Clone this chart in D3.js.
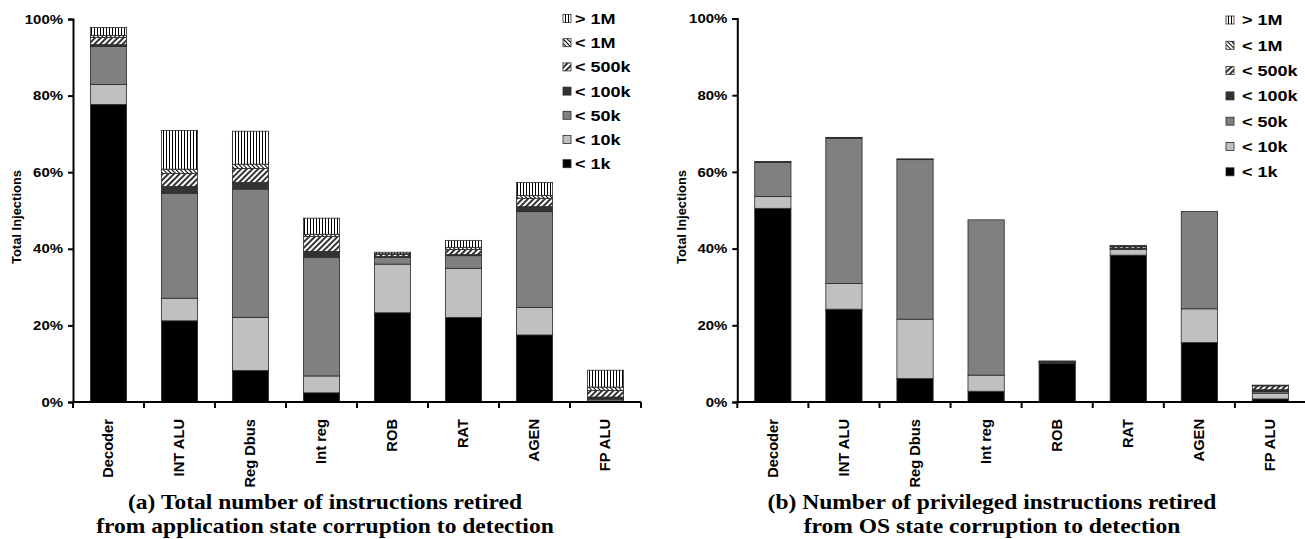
<!DOCTYPE html>
<html>
<head>
<meta charset="utf-8">
<script src="https://cdn.jsdelivr.net/npm/d3@7"></script>
<style>
  html, body { margin: 0; padding: 0; background: #fff; }
  svg { display: block; }
</style>
</head>
<body>
<svg id="chart" width="1305" height="539"></svg>
<script>
// ---------- DATA ----------
const categories = ["Decoder", "INT ALU", "Reg Dbus", "Int reg", "ROB", "RAT", "AGEN", "FP ALU"];
const seriesNames = ["< 1k", "< 10k", "< 50k", "< 100k", "< 500k", "< 1M", "> 1M"];
const yTicks = [0, 20, 40, 60, 80, 100];
const yTickLabels = ["0%", "20%", "40%", "60%", "80%", "100%"];
const yTitle = "Total Injections";

// (a) application state corruption
const appLt1k   = [77.7, 21.2, 8.2, 2.4, 23.3, 22.1, 17.5, 0.3];
const appLt10k  = [5.2, 5.9, 13.9, 4.4, 12.7, 12.8, 7.2, 0.4];
const appLt50k  = [9.9, 27.4, 33.5, 31.0, 1.8, 3.3, 25.0, 0.2];
const appLt100k = [0.5, 1.8, 1.7, 1.5, 0.2, 0.3, 1.3, 0.4];
const appLt500k = [1.9, 3.4, 3.7, 3.9, 0.5, 1.3, 2.2, 1.7];
const appLt1M   = [0.5, 1.1, 1.1, 0.6, 0.2, 0.6, 0.7, 0.9];
const appGt1M   = [2.1, 10.1, 8.6, 4.2, 0.4, 1.8, 3.4, 4.4];

// (b) OS state corruption
const osLt1k   = [50.5, 24.2, 6.1, 2.8, 10.1, 38.3, 15.5, 0.8];
const osLt10k  = [3.1, 6.7, 15.5, 4.2, 0.1, 1.5, 8.8, 1.5];
const osLt50k  = [8.9, 37.9, 41.6, 40.5, 0.1, 0.2, 25.4, 0.4];
const osLt100k = [0.2, 0.2, 0.2, 0.0, 0.1, 0.1, 0.0, 0.5];
const osLt500k = [0.0, 0.0, 0.0, 0.0, 0.2, 0.4, 0.0, 1.0];
const osLt1M   = [0.0, 0.0, 0.0, 0.0, 0.0, 0.1, 0.0, 0.1];
const osGt1M   = [0.0, 0.0, 0.0, 0.0, 0.1, 0.2, 0.0, 0.1];

const captionA = ["(a) Total number of instructions retired", "from application state corruption to detection"];
const captionB = ["(b) Number of privileged instructions retired", "from OS state corruption to detection"];

// ---------- SETUP ----------
const svg = d3.select("#chart");
const SANS = "'Liberation Sans', Arial, Helvetica, sans-serif";
const SERIF = "'Liberation Serif', 'Times New Roman', serif";

const defs = svg.append("defs");
function linePattern(id, size, angle, lw) {
  const p = defs.append("pattern").attr("id", id)
    .attr("patternUnits", "userSpaceOnUse")
    .attr("width", size).attr("height", size)
    .attr("patternTransform", `rotate(${angle})`);
  p.append("rect").attr("width", size).attr("height", size).attr("fill", "#fff");
  p.append("line").attr("x1", size / 2).attr("x2", size / 2).attr("y1", -1).attr("y2", size + 1)
    .attr("stroke", "#000").attr("stroke-width", lw);
}
linePattern("pVert", 3, 0, 1);
linePattern("p500k", 4, 45, 1.6);
linePattern("p1M", 3, -45, 1);

const fills = ["#000000", "#c0c0c0", "#808080", "#333333", "url(#p500k)", "url(#p1M)", "url(#pVert)"];

function stretch(sel, k) {
  sel.each(function () {
    const L = this.getComputedTextLength();
    this.setAttribute("textLength", L * k);
    this.setAttribute("lengthAdjust", "spacingAndGlyphs");
  });
}

function drawPanel(cfg) {
  const g = svg.append("g");
  const x = d3.scaleBand().domain(categories)
    .range([cfg.x0, cfg.x1]).paddingInner(0.49).paddingOuter(0.245);
  const y = d3.scaleLinear().domain([0, 100]).range([cfg.yBottom, cfg.yTop]);

  const rows = categories.map((c, i) => {
    const r = { cat: c };
    seriesNames.forEach((s, j) => r[s] = cfg.series[j][i]);
    return r;
  });
  const stacked = d3.stack().keys(seriesNames)(rows);

  stacked.forEach((layer, j) => {
    g.append("g").selectAll("rect")
      .data(layer.filter(d => d[1] - d[0] > 0))
      .join("rect")
      .attr("x", d => x(d.data.cat))
      .attr("width", x.bandwidth())
      .attr("y", d => y(d[1]))
      .attr("height", d => y(d[0]) - y(d[1]))
      .attr("fill", fills[j])
      .attr("stroke", "#2a2a2a")
      .attr("stroke-width", 0.8);
  });

  // Y axis
  const yAxis = d3.axisLeft(y).tickValues(yTicks)
    .tickFormat((d, i) => yTickLabels[i]).tickSize(5).tickPadding(5);
  const ya = g.append("g").attr("transform", `translate(${cfg.x0},0)`).call(yAxis);
  ya.select(".domain").attr("stroke", "#000").attr("stroke-width", 2);
  ya.selectAll(".tick line").attr("stroke", "#000").attr("stroke-width", 2);
  ya.selectAll(".tick text").attr("font-family", SANS).attr("font-weight", "bold")
    .attr("font-size", 13).attr("fill", "#000");
  stretch(ya.selectAll(".tick text"), 1.15);

  // X axis line with ticks at band boundaries
  const edges = categories.map((c, i) => cfg.x0 + i * x.step());
  edges.push(cfg.x1);
  g.append("line").attr("x1", cfg.x0 - 1).attr("x2", cfg.x1)
    .attr("y1", cfg.yBottom).attr("y2", cfg.yBottom)
    .attr("stroke", "#000").attr("stroke-width", 2);
  g.append("g").selectAll("line").data(edges).join("line")
    .attr("x1", d => d).attr("x2", d => d)
    .attr("y1", cfg.yBottom).attr("y2", cfg.yBottom + 6)
    .attr("stroke", "#000").attr("stroke-width", 2);

  // X labels (rotated)
  const xl = g.append("g").selectAll("text").data(categories).join("text")
    .attr("transform", d => `translate(${x(d) + x.bandwidth() / 2},419) rotate(-90)`)
    .attr("text-anchor", "end")
    .attr("dy", "0.35em")
    .attr("font-family", SANS).attr("font-weight", "bold").attr("font-size", 14)
    .attr("fill", "#000")
    .text(d => d);
  stretch(xl, 1.05);

  // Y title
  const yt = g.append("text")
    .attr("transform", `translate(${cfg.titleX},217) rotate(-90)`)
    .attr("text-anchor", "middle").attr("dy", "0.35em")
    .attr("font-family", SANS).attr("font-weight", "bold").attr("font-size", 12)
    .attr("fill", "#000").text(yTitle);
  stretch(yt, 1.08);

  // Legend (reverse order, top = > 1M)
  const leg = g.append("g");
  const order = seriesNames.map((s, j) => j).reverse();
  order.forEach((j, k) => {
    const cy = cfg.legY0 + k * cfg.legStep;
    leg.append("rect").attr("x", cfg.legX).attr("y", cy - 4).attr("width", 8).attr("height", 8)
      .attr("fill", fills[j]).attr("stroke", "#2a2a2a").attr("stroke-width", 0.8);
    const t = leg.append("text").attr("x", cfg.legTextX).attr("y", cy).attr("dy", "0.36em")
      .attr("font-family", SANS).attr("font-weight", "bold").attr("font-size", 15)
      .attr("fill", "#000").text(seriesNames[j]);
    stretch(t, 1.2);
  });

  // Caption
  cfg.caption.forEach((line, i) => {
    const t = g.append("text").attr("x", cfg.capX).attr("y", 509 + i * 24)
      .attr("text-anchor", "middle")
      .attr("font-family", SERIF).attr("font-weight", "bold").attr("font-size", 21)
      .attr("fill", "#000").text(line);
    stretch(t, 1.12);
  });
}

drawPanel({
  x0: 73, x1: 641, yTop: 19, yBottom: 402, titleX: 16.5,
  series: [appLt1k, appLt10k, appLt50k, appLt100k, appLt500k, appLt1M, appGt1M],
  legX: 563, legTextX: 575, legY0: 18.5, legStep: 24.2,
  caption: captionA, capX: 325
});
drawPanel({
  x0: 737.3, x1: 1306, yTop: 18.5, yBottom: 402, titleX: 681.5,
  series: [osLt1k, osLt10k, osLt50k, osLt100k, osLt500k, osLt1M, osGt1M],
  legX: 1226, legTextX: 1242, legY0: 20, legStep: 25.3,
  caption: captionB, capX: 992
});
</script>
</body>
</html>
